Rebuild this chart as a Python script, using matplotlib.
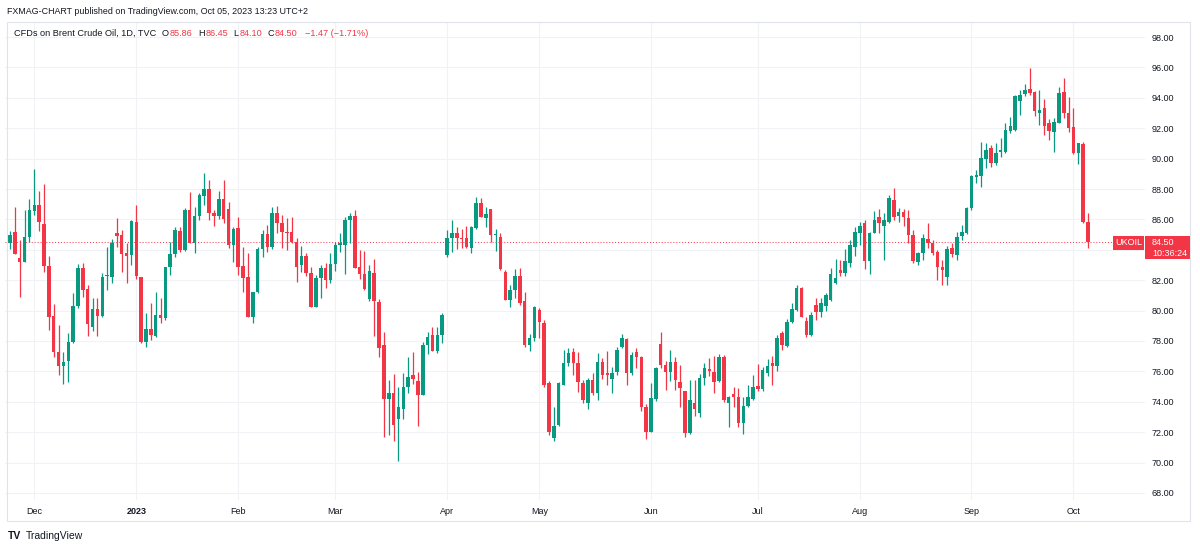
import matplotlib
matplotlib.use('Agg')
import matplotlib.pyplot as plt
import matplotlib.transforms as mtransforms
from matplotlib.patches import Rectangle

plt.rcParams['font.family'] = ['Liberation Sans', 'DejaVu Sans']

# daily candles, Brent CFD (UKOIL), late Nov 2022 -> Oct 5 2023
opens = [
    84.47, 85.19, 83.44, 83.18, 84.86, 86.57, 86.95, 85.68, 82.93, 79.64,
    77.30, 76.36, 76.68, 77.96, 80.30, 82.78, 81.40, 78.94, 80.11, 79.65,
    82.28, 82.19, 85.13, 84.97, 83.77, 83.66, 85.85, 82.23, 77.96, 78.77,
    78.33, 79.71, 79.49, 82.85, 83.72, 85.26, 83.99, 86.62, 84.47, 86.22,
    87.54, 87.98, 86.40, 86.22, 87.32, 86.66, 84.32, 85.41, 82.93, 82.19,
    79.60, 81.24, 84.03, 85.04, 84.16, 86.40, 85.74, 85.19, 85.15, 84.53,
    83.00, 83.59, 82.50, 80.21, 82.12, 82.78, 82.01, 83.07, 84.32, 84.32,
    85.96, 86.22, 82.89, 82.41, 80.74, 82.50, 80.59, 77.74, 74.16, 74.60,
    72.85, 73.50, 74.99, 75.76, 75.39, 74.45, 77.74, 78.39, 77.36, 78.39,
    83.66, 84.75, 85.13, 84.75, 84.75, 84.10, 85.41, 87.10, 86.07, 86.66,
    84.97, 84.82, 82.56, 80.70, 81.36, 82.28, 80.63, 77.74, 78.17, 80.04,
    79.20, 75.22, 71.60, 72.47, 75.11, 76.53, 77.25, 76.53, 75.26, 73.94,
    75.43, 74.56, 76.64, 75.92, 75.48, 75.98, 77.58, 78.11, 75.87, 77.30,
    76.97, 73.68, 72.03, 74.16, 77.80, 76.42, 75.98, 76.64, 75.32, 74.73,
    71.93, 73.94, 73.24, 75.54, 76.18, 75.98, 75.39, 76.92, 73.90, 74.51,
    74.34, 72.58, 73.72, 74.16, 75.04, 74.82, 75.87, 76.53, 76.36, 78.50,
    77.67, 79.27, 80.04, 81.46, 79.34, 78.39, 80.40, 79.90, 80.30, 80.70,
    81.84, 82.67, 82.50, 83.15, 84.16, 85.13, 85.74, 83.29, 85.13, 86.18,
    85.57, 85.85, 87.28, 86.22, 86.51, 86.07, 84.97, 83.22, 83.77, 84.69,
    84.43, 83.88, 82.89, 82.23, 84.10, 83.66, 84.91, 85.08, 86.73, 88.82,
    88.86, 89.95, 90.68, 89.69, 90.46, 90.46, 91.84, 91.88, 93.81, 94.23,
    94.56, 94.40, 93.02, 93.31, 92.36, 91.77, 92.36, 94.40, 92.98, 92.10,
    90.35, 90.96, 85.86,
]
highs = [
    85.26, 86.84, 84.65, 86.62, 87.32, 89.29, 87.89, 88.33, 83.59, 80.43,
    79.05, 77.30, 78.51, 81.18, 83.07, 83.11, 81.68, 80.81, 80.81, 82.45,
    84.16, 84.69, 86.07, 85.30, 84.42, 85.96, 86.95, 82.23, 79.86, 80.48,
    81.24, 80.81, 82.89, 84.53, 85.52, 85.48, 86.73, 87.82, 86.84, 87.76,
    89.07, 88.59, 86.62, 87.89, 88.59, 87.17, 85.52, 86.13, 84.21, 83.81,
    81.24, 84.16, 85.30, 85.63, 86.84, 86.88, 86.29, 86.07, 86.14, 84.75,
    84.25, 83.77, 82.89, 82.34, 83.00, 83.11, 83.77, 84.53, 85.08, 86.14,
    86.40, 86.62, 83.99, 83.94, 83.00, 83.37, 80.74, 78.61, 75.43, 75.83,
    74.99, 75.92, 76.97, 77.30, 75.98, 77.96, 78.61, 78.90, 78.94, 79.86,
    85.30, 85.96, 85.52, 85.35, 85.57, 85.57, 87.45, 87.39, 86.79, 86.66,
    85.35, 85.08, 82.67, 81.68, 82.71, 82.78, 81.24, 78.46, 80.30, 80.15,
    79.40, 75.39, 73.64, 75.33, 77.41, 77.52, 77.52, 77.30, 75.43, 75.54,
    75.87, 77.19, 76.86, 77.36, 76.31, 77.63, 78.46, 78.17, 77.30, 77.52,
    77.01, 73.85, 75.22, 76.31, 78.61, 76.70, 77.41, 76.97, 76.42, 74.73,
    75.43, 75.43, 75.83, 76.53, 76.86, 77.01, 77.14, 77.08, 74.38, 74.95,
    74.89, 74.34, 75.10, 75.76, 76.49, 76.27, 76.79, 77.01, 78.39, 78.68,
    79.42, 80.48, 81.68, 81.57, 79.60, 79.93, 80.85, 80.80, 81.18, 82.78,
    83.37, 83.33, 84.03, 84.64, 85.48, 85.85, 85.96, 85.19, 86.57, 86.66,
    86.44, 87.61, 88.04, 86.73, 86.66, 86.62, 85.30, 83.88, 85.04, 85.74,
    84.64, 83.99, 83.33, 84.25, 84.47, 85.19, 85.63, 86.84, 88.92, 89.25,
    91.11, 91.01, 90.90, 91.01, 91.33, 92.32, 92.76, 94.20, 94.51, 94.91,
    95.94, 94.47, 94.51, 93.90, 92.58, 92.65, 94.69, 95.28, 94.07, 93.31,
    91.01, 91.11, 86.45,
]
lows = [
    84.03, 83.70, 80.87, 83.18, 84.50, 86.29, 85.26, 82.56, 78.72, 76.97,
    75.76, 75.17, 75.33, 77.89, 80.15, 80.87, 78.33, 78.68, 78.33, 79.60,
    81.36, 81.84, 84.21, 82.56, 81.84, 82.98, 82.10, 77.89, 77.63, 78.07,
    78.28, 79.16, 79.38, 82.34, 83.55, 83.88, 83.94, 84.43, 83.81, 85.96,
    86.95, 85.96, 85.57, 86.00, 85.74, 84.10, 83.22, 82.34, 81.24, 79.60,
    79.16, 81.18, 83.55, 83.88, 84.03, 85.13, 84.10, 83.99, 84.43, 81.90,
    82.56, 82.28, 80.21, 80.21, 80.81, 81.46, 81.84, 82.63, 83.88, 82.41,
    84.43, 82.78, 82.06, 81.36, 80.65, 78.33, 76.93, 71.66, 71.81, 71.44,
    70.13, 72.85, 74.56, 75.17, 72.41, 74.45, 77.14, 77.36, 77.23, 77.89,
    83.55, 83.88, 84.03, 84.10, 84.10, 83.77, 85.35, 86.18, 85.48, 84.53,
    83.94, 82.67, 80.70, 80.21, 80.81, 80.37, 77.63, 77.36, 78.02, 78.17,
    75.00, 71.82, 71.44, 72.41, 75.11, 76.36, 75.76, 74.67, 73.94, 73.50,
    74.45, 74.12, 75.48, 75.11, 74.60, 75.76, 77.52, 75.11, 75.76, 76.20,
    73.41, 71.53, 72.03, 74.07, 76.20, 74.78, 75.39, 74.78, 73.68, 71.71,
    71.88, 73.07, 73.02, 75.11, 75.70, 74.60, 75.32, 74.01, 72.32, 73.64,
    72.36, 71.88, 73.64, 74.12, 74.73, 74.73, 75.70, 75.11, 76.05, 77.41,
    77.58, 79.16, 79.99, 79.56, 78.28, 78.33, 79.40, 79.60, 80.00, 80.60,
    81.75, 82.28, 82.28, 82.89, 83.59, 84.32, 82.71, 82.41, 85.08, 85.13,
    83.33, 85.78, 85.96, 85.85, 85.57, 84.43, 83.15, 83.00, 83.33, 84.10,
    83.66, 82.01, 81.68, 81.68, 83.55, 83.33, 84.64, 85.04, 86.62, 88.37,
    88.11, 89.36, 89.47, 89.58, 90.13, 90.35, 91.71, 91.84, 92.87, 94.12,
    94.18, 92.80, 92.21, 91.55, 91.22, 90.46, 92.32, 92.65, 91.77, 90.30,
    89.64, 85.74, 84.10,
]
closes = [
    84.97, 83.72, 83.18, 84.86, 86.62, 86.95, 85.85, 82.96, 79.60, 77.30,
    76.36, 76.64, 77.96, 80.32, 82.78, 81.36, 79.10, 80.11, 79.65, 82.23,
    82.32, 84.47, 84.91, 83.72, 83.59, 85.89, 82.28, 77.96, 78.77, 78.39,
    79.71, 79.49, 82.85, 83.72, 85.30, 83.99, 86.62, 84.47, 86.22, 87.61,
    87.98, 86.40, 86.22, 87.32, 86.00, 84.32, 85.37, 82.89, 82.12, 79.60,
    81.24, 84.03, 85.04, 84.16, 86.40, 85.74, 85.19, 85.08, 84.53, 82.89,
    83.59, 82.45, 80.21, 82.12, 82.78, 82.01, 83.07, 84.32, 84.43, 85.96,
    86.22, 82.78, 82.41, 81.40, 82.63, 80.65, 77.52, 74.16, 74.56, 72.48,
    73.68, 74.99, 75.65, 75.48, 74.45, 77.74, 78.28, 77.36, 78.39, 79.71,
    84.75, 85.13, 84.75, 84.69, 84.16, 85.48, 87.10, 86.18, 86.36, 84.97,
    85.04, 82.71, 80.70, 81.36, 82.28, 80.48, 77.74, 78.17, 80.21, 79.27,
    75.11, 72.03, 72.41, 75.22, 76.53, 77.19, 76.53, 75.33, 74.12, 75.43,
    74.56, 76.64, 75.76, 75.76, 75.87, 77.41, 78.17, 75.87, 77.08, 76.97,
    73.68, 72.03, 74.23, 76.20, 76.42, 75.98, 76.64, 75.43, 74.89, 71.93,
    74.12, 73.50, 75.54, 76.20, 76.05, 75.32, 76.92, 74.12, 74.30, 74.34,
    72.63, 73.72, 74.29, 74.99, 74.82, 76.09, 76.36, 76.36, 78.17, 77.74,
    79.27, 80.08, 81.46, 79.60, 78.39, 79.71, 79.90, 80.50, 81.03, 82.41,
    82.12, 82.45, 83.29, 84.32, 85.19, 85.57, 83.29, 85.13, 85.96, 85.78,
    85.96, 87.39, 86.18, 86.51, 86.14, 84.97, 83.29, 83.77, 84.75, 84.47,
    83.81, 82.89, 82.67, 84.03, 83.72, 84.82, 85.19, 86.73, 88.86, 88.92,
    90.02, 90.57, 89.69, 90.39, 90.57, 91.88, 92.15, 94.12, 94.18, 94.51,
    94.29, 93.15, 93.19, 92.15, 91.84, 92.43, 94.29, 93.02, 91.99, 90.39,
    91.01, 85.85, 84.50,
]

# time axis: label text and index of the first bar of that month
month_labels = ['Dec', '2023', 'Feb', 'Mar', 'Apr', 'May', 'Jun', 'Jul', 'Aug', 'Sep', 'Oct']
month_first_bar = [5, 26, 47, 67, 90, 109, 132, 154, 175, 198, 219]
price_ticks = list(range(68, 99, 2))

symbol = 'UKOIL'
countdown = '10:36:24'
header = 'FXMAG-CHART published on TradingView.com, Oct 05, 2023 13:23 UTC+2'
title = 'CFDs on Brent Crude Oil, 1D, TVC'
change_text = '\u22121.47 (\u22121.71%)'

UP = '#089981'
DOWN = '#F23645'
TXT = '#131722'
GRID = '#f1f2f5'

W, H = 1200, 548
PX_BAR = 4.856      # pixels between candles
PX_PRICE = 15.2     # pixels per 1.00 of price


def fx(px):
    return px / W


def fy(py):
    return 1 - py / H


fig = plt.figure(figsize=(W / 100, H / 100), dpi=100)
fig.patch.set_facecolor('white')

ax = fig.add_axes([fx(5), fy(500), fx(1145) - fx(5), fy(22) - fy(500)])
ax.set_xlim(-5 / PX_BAR, 1135 / PX_BAR)
ax.set_ylim(98 - (500 - 37) / PX_PRICE, 98 + 15 / PX_PRICE)

# candles
xs = list(range(len(closes)))
colors = [UP if c >= o else DOWN for o, c in zip(opens, closes)]
bottoms = [min(o, c) for o, c in zip(opens, closes)]
heights = [max(abs(c - o), 0.07) for o, c in zip(opens, closes)]
ax.vlines(xs, lows, highs, colors=colors, linewidth=0.9, zorder=2)
ax.bar(xs, heights, bottom=bottoms, width=0.72, color=colors, linewidth=0, zorder=3)

# last price dotted line
last = closes[-1]
ax.axhline(last, color=DOWN, linestyle=(0, (1, 2)), linewidth=0.7, zorder=1)

# grid + axes (the tick under the price label is hidden, as on the chart)
ax.set_yticks(price_ticks)
ax.set_yticklabels(['' if abs(p - last) < 1 else '{:.2f}'.format(p) for p in price_ticks])
ax.set_xticks(month_first_bar)
ax.set_xticklabels(month_labels)
for lab in ax.get_xticklabels():
    if lab.get_text() == '2023':
        lab.set_fontweight('bold')
ax.grid(True, color=GRID, linewidth=0.8)
ax.set_axisbelow(True)
for s in ax.spines.values():
    s.set_visible(False)
ax.yaxis.tick_right()
ax.tick_params(axis='y', length=0, pad=5, labelsize=6.5, labelcolor=TXT)
ax.tick_params(axis='x', length=0, pad=5, labelsize=6.5, labelcolor=TXT)

# outer frame
fig.add_artist(Rectangle((fx(7), fy(521)), fx(1190) - fx(7), fy(22) - fy(521),
                         transform=fig.transFigure, fill=False,
                         edgecolor='#e0e3eb', linewidth=0.8, zorder=4))

# symbol / price label on the price scale
blend = mtransforms.blended_transform_factory(fig.transFigure, ax.transData)
fig.add_artist(Rectangle((fx(1113), last - 7.5 / PX_PRICE), fx(1144) - fx(1113), 14 / PX_PRICE,
                         transform=blend, facecolor=DOWN, edgecolor='none', zorder=5))
fig.add_artist(Rectangle((fx(1145), last - 17 / PX_PRICE), fx(1190) - fx(1145), 23.5 / PX_PRICE,
                         transform=blend, facecolor=DOWN, edgecolor='none', zorder=5))
fig.text(fx(1128.5), last, symbol, transform=blend, color='white', fontsize=6.5,
         ha='center', va='center', zorder=6)
fig.text(fx(1152), last, '{:.2f}'.format(last), transform=blend, color='white', fontsize=6.5,
         ha='left', va='center', zorder=6)
fig.text(fx(1152), last - 11.5 / PX_PRICE, countdown, transform=blend, color='white',
         fontsize=6.5, ha='left', va='center', zorder=6)

# header and legend line
fig.text(fx(7), fy(12), header, fontsize=6.4, color=TXT, va='center')
prev = fig.text(fx(14), fy(33), title, fontsize=6.6, color=TXT, va='center')
legend_parts = [('O', TXT, 4), ('%.2f' % opens[-1], DOWN, 0.5),
                ('H', TXT, 4), ('%.2f' % highs[-1], DOWN, 0.5),
                ('L', TXT, 4), ('%.2f' % lows[-1], DOWN, 0.5),
                ('C', TXT, 4), ('%.2f' % closes[-1], DOWN, 0.5),
                (change_text, DOWN, 5)]
for txt, col, gap in legend_parts:
    prev = ax.annotate(txt, xy=(1, 0.5), xycoords=prev, xytext=(gap, 0),
                       textcoords='offset points', fontsize=6.6, color=col,
                       va='center', ha='left', annotation_clip=False)

# footer logo
fig.text(fx(8), fy(536), 'TV', fontsize=7.5, fontweight='heavy', color=TXT, va='center')
fig.text(fx(26), fy(536), 'TradingView', fontsize=7.5, color=TXT, va='center')

fig.savefig('out.png', dpi=100, facecolor='white')
